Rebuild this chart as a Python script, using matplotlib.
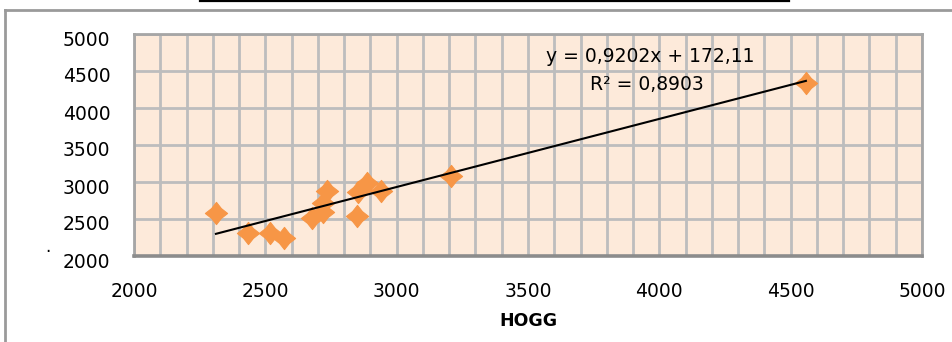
import matplotlib
matplotlib.use("Agg")
import matplotlib.pyplot as plt
import matplotlib.transforms as mtransforms
from matplotlib.path import Path
from matplotlib.lines import Line2D
import numpy as np

# ---- data ----
hogg = [2312, 2435, 2518, 2571, 2676, 2721, 2721, 2734, 2848, 2854, 2886, 2940, 3206, 4558]
other = [2577, 2307, 2307, 2248, 2520, 2599, 2712, 2882, 2541, 2869, 2982, 2882, 3081, 4342]
slope = 0.9202
intercept = 172.11
eq_text = "y = 0,9202x + 172,11"
r2_text = "R² = 0,8903"
xticks = [2000, 2500, 3000, 3500, 4000, 4500, 5000]
yticks = [2000, 2500, 3000, 3500, 4000, 4500, 5000]
xlabel = "HOGG"

W, H = 952, 342
fig = plt.figure(figsize=(W / 100, H / 100), dpi=100)
fig.patch.set_facecolor("white")

def fx(px):
    return px / W

def fy(py):
    return 1 - py / H

# outer frame lines (chart area border) and top black line
fig.add_artist(Line2D([fx(5), fx(952)], [fy(10), fy(10)], color="#9a9a9a", lw=2.0))
fig.add_artist(Line2D([fx(5), fx(5)], [fy(10), fy(342)], color="#9a9a9a", lw=2.0))
fig.add_artist(Line2D([fx(200), fx(789)], [fy(0.8), fy(0.8)], color="black", lw=1.6))
fig.text(fx(48), fy(247), ".", fontsize=12, ha="center", va="center", color="black")

left, right, top, bottom = 134, 922, 34, 256
ax = fig.add_axes([fx(left), fy(bottom), fx(right - left), fy(top) - fy(bottom)])
ax.set_facecolor("#FDEADA")
ax.set_xlim(2000, 5000)
ax.set_ylim(2000, 5000)

ax.set_xticks(xticks)
ax.set_xticks(np.arange(2000, 5001, 100), minor=True)
ax.set_yticks(yticks)
ax.grid(True, which="major", color="#BDBDBD", lw=2.0)
ax.grid(True, which="minor", axis="x", color="#BDBDBD", lw=2.0)
ax.set_axisbelow(True)
ax.tick_params(which="both", length=0)
ax.tick_params(axis="x", pad=19, labelsize=13.5)
ax.tick_params(axis="y", pad=17, labelsize=13.5)

for lab in ax.get_yticklabels():
    lab.set_transform(lab.get_transform() + mtransforms.ScaledTranslation(0, -4 / 100, fig.dpi_scale_trans))

for s in ax.spines.values():
    s.set_color("#A6A6A6")
    s.set_linewidth(2.0)
ax.spines["bottom"].set_color("#8c8c8c")
ax.spines["bottom"].set_linewidth(2.6)

# slightly concave diamond marker
r = 0.44
verts = [(0, 1), (r, r), (1, 0), (r, -r), (0, -1), (-r, -r), (-1, 0), (-r, r), (0, 1)]
codes = [Path.MOVETO] + [Path.LINETO] * 7 + [Path.CLOSEPOLY]
star = Path(verts, codes)

ax.plot(hogg, other, linestyle="none", marker=star, markersize=16,
        markerfacecolor="#F79646", markeredgecolor="#F79646", markeredgewidth=0.8, zorder=3)

xl = np.array([min(hogg), max(hogg)])
ax.plot(xl, slope * xl + intercept, color="black", lw=1.5, zorder=4)

fig.text(fx(650), fy(56), eq_text, fontsize=13.5, ha="center", va="center")
fig.text(fx(647), fy(84), r2_text, fontsize=13.5, ha="center", va="center")

ax.set_xlabel(xlabel, fontsize=12.5, fontweight="bold", labelpad=8)

fig.savefig("out.png", dpi=100)
